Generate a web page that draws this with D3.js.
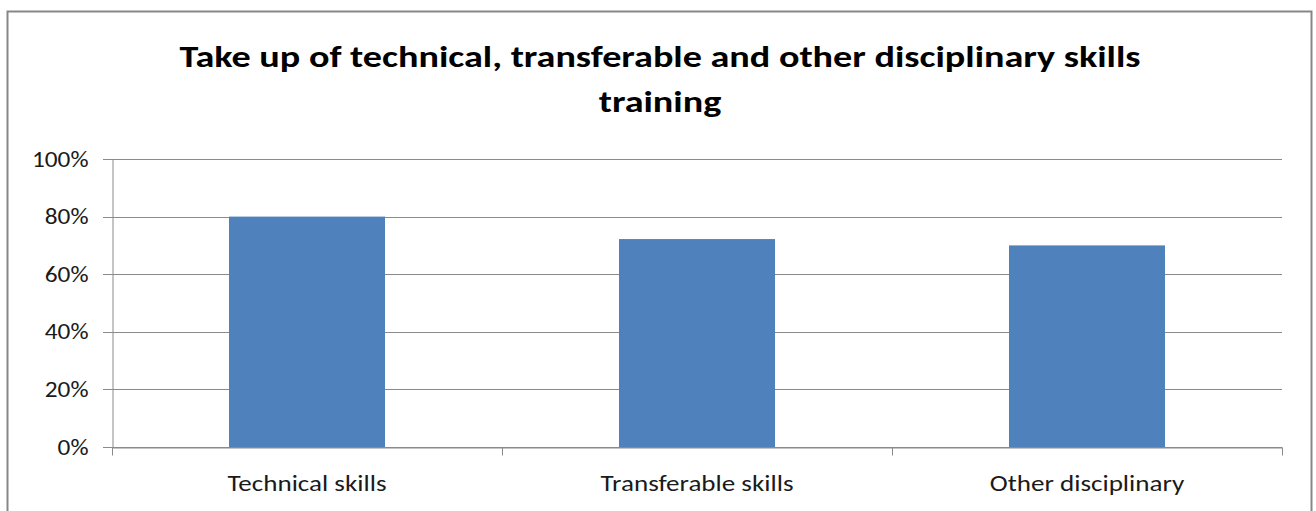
<!DOCTYPE html>
<html>
<head>
<meta charset="utf-8">
<script src="https://cdn.jsdelivr.net/npm/d3@7"></script>
<style>
  body { margin: 0; background: #fff; }
  svg { display: block; font-family: Carlito, Calibri, Lato, "Open Sans", sans-serif; }
</style>
</head>
<body>
<svg id="chart" width="1316" height="511"></svg>
<script>
var categories = ["Technical skills", "Transferable skills", "Other disciplinary"];
var values = [0.80, 0.722, 0.70];
var yTicks = [0, 0.2, 0.4, 0.6, 0.8, 1.0];
var titleLines = ["Take up of technical, transferable and other disciplinary skills", "training"];

var svg = d3.select("#chart");
var plotLeft = 112, plotRight = 1282, plotTop = 159, plotBottom = 447;

// stretch text horizontally a bit, the original is wider than our fonts
function stretch(sel, k) {
  sel.each(function() {
    var w = this.getComputedTextLength();
    d3.select(this).attr("textLength", w * k).attr("lengthAdjust", "spacingAndGlyphs");
  });
}

// outer chart border
svg.append("rect")
  .attr("x", 7.5).attr("y", 11.5)
  .attr("width", 1304).attr("height", 520)
  .attr("fill", "#fff")
  .attr("stroke", "#878787").attr("stroke-width", 2);

var x = d3.scaleBand()
  .domain(categories)
  .range([plotLeft, plotRight])
  .paddingInner(0.6)
  .paddingOuter(0.3);

var y = d3.scaleLinear()
  .domain([0, 1])
  .range([plotBottom, plotTop]);

// gridlines
svg.append("g")
  .selectAll("line")
  .data(yTicks)
  .enter()
  .append("line")
  .attr("x1", plotLeft - 9).attr("x2", plotRight)
  .attr("y1", function(d) { return Math.round(y(d)) + 0.5; })
  .attr("y2", function(d) { return Math.round(y(d)) + 0.5; })
  .attr("stroke", "#8a8a8a").attr("stroke-width", 1);

// bars
svg.append("g")
  .selectAll("rect")
  .data(values)
  .enter()
  .append("rect")
  .attr("x", function(d, i) { return x(categories[i]); })
  .attr("width", x.bandwidth())
  .attr("y", function(d) { return y(d); })
  .attr("height", function(d) { return y(0) - y(d); })
  .attr("fill", "#4f81bd");

// y axis
var yAxis = d3.axisLeft(y)
  .tickValues(yTicks)
  .tickFormat(d3.format(".0%"))
  .tickSize(0)
  .tickPadding(24);

var gy = svg.append("g")
  .attr("transform", "translate(" + (plotLeft + 0.5) + ",0)")
  .call(yAxis);
gy.select(".domain").attr("stroke", "#8a8a8a");
gy.selectAll("text")
  .attr("fill", "#1a1a1a")
  .style("font-size", "22px")
  .style("font-family", "Carlito, Calibri, Lato, 'Open Sans', sans-serif");
stretch(gy.selectAll("text"), 1.15);

// x axis
var xAxis = d3.axisBottom(x).tickSize(0).tickPadding(28);
var gx = svg.append("g")
  .attr("transform", "translate(0," + (Math.round(plotBottom) + 0.5) + ")")
  .call(xAxis);
gx.select(".domain").attr("stroke", "#8a8a8a");
gx.selectAll("text")
  .attr("fill", "#1a1a1a")
  .style("font-size", "22px")
  .style("font-family", "Carlito, Calibri, Lato, 'Open Sans', sans-serif");
stretch(gx.selectAll("text"), 1.23);

// category boundary ticks
var bounds = [plotLeft].concat(categories.map(function(c) { return x(c) + x.bandwidth() + x.step() * 0.3; }));
gx.selectAll(".bound")
  .data(bounds)
  .enter()
  .append("line")
  .attr("class", "bound")
  .attr("x1", function(d) { return Math.round(d) + 0.5; })
  .attr("x2", function(d) { return Math.round(d) + 0.5; })
  .attr("y1", 0).attr("y2", 8)
  .attr("stroke", "#8a8a8a");

// title
var title = svg.append("g")
  .selectAll("text")
  .data(titleLines)
  .enter()
  .append("text")
  .attr("x", 660)
  .attr("y", function(d, i) { return 67 + i * 45; })
  .attr("text-anchor", "middle")
  .attr("font-weight", "bold")
  .attr("font-size", "31px")
  .attr("fill", "#000")
  .text(function(d) { return d; });
stretch(title, 1.23);
</script>
</body>
</html>
